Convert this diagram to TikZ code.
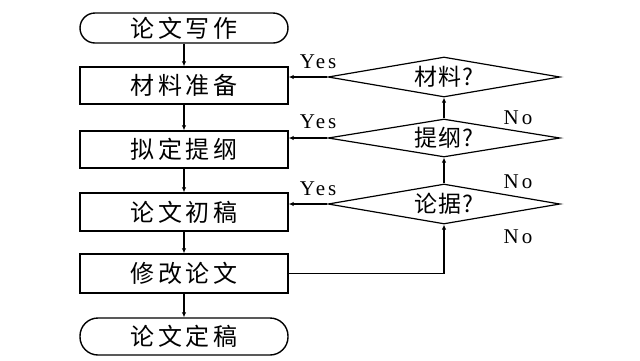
\documentclass[tikz,border=0pt]{standalone}
\usepackage{fontspec}
\setmainfont{Liberation Serif}
\newfontfamily\cjk[LetterSpace=16]{Noto Sans CJK SC}
\newfontfamily\cjkd[LetterSpace=6]{Noto Sans CJK SC}
\newfontfamily\lat[LetterSpace=14]{Liberation Serif}
\usetikzlibrary{shapes.geometric,arrows.meta}
\begin{document}
\begin{tikzpicture}[x=1pt,y=-1pt,
  box/.style={draw,line width=1.4pt,minimum width=208pt,inner sep=0pt,font=\cjk\fontsize{24}{24}\selectfont},
  term/.style={box,rounded corners=15pt},
  dia/.style={draw,diamond,aspect=6,line width=1.2pt,minimum width=232pt,inner sep=0pt,font=\cjkd\fontsize{23}{23}\selectfont},
  arr/.style={line width=1.1pt,-{Latex[length=5pt,width=4.5pt]}},
  lab/.style={font=\lat\fontsize{21}{21}\selectfont,inner sep=0pt}]
\fill[white] (0,0) rectangle (640,360);
\useasboundingbox (0,0) rectangle (640,360);
\node[term,minimum height=30pt] (s) at (184,28) {论文写作};
\node[box,minimum height=37pt] (b1) at (184,85.5) {材料准备};
\node[box,minimum height=37pt] (b2) at (184,149.5) {拟定提纲};
\node[box,minimum height=38pt] (b3) at (184,212) {论文初稿};
\node[box,minimum height=39pt] (b4) at (184,273.5) {修改论文};
\node[term,minimum height=37pt,rounded corners=18pt] (e) at (184,336.5) {论文定稿};
\node[dia,minimum height=40pt] (d1) at (444,77) {材料?};
\node[dia,minimum height=38pt] (d2) at (444,138) {提纲?};
\node[dia,minimum height=40pt] (d3) at (444,204) {论据?};
\draw[arr] (s) -- (b1);
\draw[arr] (b1) -- (b2);
\draw[arr] (b2) -- (b3);
\draw[arr] (b3) -- (b4);
\draw[arr] (b4) -- (e);
\draw[arr] (d1.west) -- (d1.west -| b1.east);
\draw[arr] (d2.west) -- (d2.west -| b2.east);
\draw[arr] (d3.west) -- (d3.west -| b3.east);
\draw[arr] (d2.north) -- (d1.south);
\draw[arr] (d3.north) -- (d2.south);
\draw[arr] (b4.east) -- (b4.east -| d3.south) -- (d3.south);
\node[lab] (y1) at (318,62) {Yes};
\node[lab] (y2) at (318,122) {Yes};
\node[lab] (y3) at (318,189) {Yes};
\node[lab] (n1) at (518,118) {No};
\node[lab] (n2) at (518,182) {No};
\node[lab] (n3) at (518,237) {No};
\end{tikzpicture}
\end{document}
